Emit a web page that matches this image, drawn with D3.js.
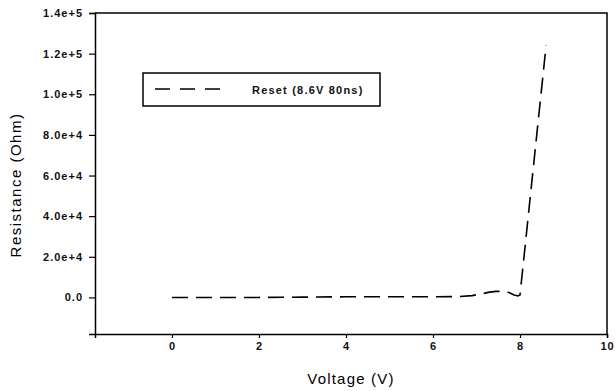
<!DOCTYPE html>
<html>
<head>
<meta charset="utf-8">
<script src="https://cdn.jsdelivr.net/npm/d3@7"></script>
<style>
  body { margin: 0; background: #fff; }
  svg { display: block; font-family: "Liberation Sans", Arial, sans-serif; }
</style>
</head>
<body>
<div id="chart"></div>
<script>
// data
var voltage    = [0, 1, 2, 3, 4, 5, 6, 6.6, 6.9, 7.1, 7.3, 7.45, 7.6, 7.75, 7.85, 7.95, 8.0, 8.6];
var resistance = [0, 0, 0, 150, 300, 300, 300, 400, 900, 1700, 2600, 3000, 3000, 2400, 1300, 700, 1200, 124000];
var xTicks = [0, 2, 4, 6, 8, 10];
var yTicks = [0, 20000, 40000, 60000, 80000, 100000, 120000, 140000];
var seriesName = "Reset (8.6V 80ns)";

var width = 615, height = 391;
var margin = { left: 95, right: 8, top: 13, bottom: 57 };

var svg = d3.select("#chart").append("svg")
    .attr("width", width)
    .attr("height", height);

var x = d3.scaleLinear()
    .domain([-1.77, 10])
    .range([margin.left, width - margin.right]);

var y = d3.scaleLinear()
    .domain([-18000, 140000])
    .range([height - margin.bottom, margin.top]);

var fmtY = function(d){ return d === 0 ? "0.0" : d.toExponential(1); };

// frame (top and right)
svg.append("path")
    .attr("d", "M" + x(-1.77) + "," + y(140000) + "H" + x(10) + "V" + y(-18000))
    .attr("fill", "none")
    .attr("stroke", "#000")
    .attr("stroke-width", 1.5);

var xAxis = svg.append("g")
    .attr("transform", "translate(0," + y(-18000) + ")")
    .call(d3.axisBottom(x).tickValues(xTicks).tickSize(4).tickPadding(4).tickFormat(d3.format("d")));

var yAxis = svg.append("g")
    .attr("transform", "translate(" + x(-1.77) + ",0)")
    .call(d3.axisLeft(y).tickValues(yTicks).tickSize(6).tickPadding(6).tickFormat(fmtY));

[xAxis, yAxis].forEach(function(a){
    a.select(".domain").attr("stroke-width", 1.5);
    a.selectAll(".tick line").attr("stroke-width", 1.2);
    a.selectAll("text")
        .attr("font-size", 11)
        .attr("font-weight", "bold")
        .attr("letter-spacing", 1)
        .attr("font-family", "Liberation Sans, Arial, sans-serif")
        .attr("fill", "#111");
});

// axis titles
svg.append("text")
    .attr("x", (x(-1.77) + x(10)) / 2)
    .attr("y", 384)
    .attr("text-anchor", "middle")
    .attr("font-size", 15)
    .attr("letter-spacing", 1.2)
    .text("Voltage (V)");

svg.append("text")
    .attr("transform", "translate(21,185) rotate(-90)")
    .attr("text-anchor", "middle")
    .attr("font-size", 15)
    .attr("letter-spacing", 1.5)
    .text("Resistance (Ohm)");

// the series
var pts = voltage.map(function(v, i){ return [v, resistance[i]]; });
var line = d3.line()
    .x(function(d){ return x(d[0]); })
    .y(function(d){ return y(d[1]); });

svg.append("path")
    .datum(pts)
    .attr("d", line)
    .attr("fill", "none")
    .attr("stroke", "#000")
    .attr("stroke-width", 1.6)
    .attr("stroke-dasharray", "16,8");

// legend
var lg = svg.append("g").attr("transform", "translate(143,73)");
lg.append("rect")
    .attr("width", 237)
    .attr("height", 33)
    .attr("fill", "#fff")
    .attr("stroke", "#000")
    .attr("stroke-width", 1.5);
lg.append("line")
    .attr("x1", 12).attr("x2", 84)
    .attr("y1", 16).attr("y2", 16)
    .attr("stroke", "#000")
    .attr("stroke-width", 1.6)
    .attr("stroke-dasharray", "15,10");
lg.append("text")
    .attr("x", 109)
    .attr("y", 20.5)
    .attr("font-size", 11)
    .attr("font-weight", "bold")
    .attr("letter-spacing", 1.2)
    .attr("fill", "#111")
    .text(seriesName);
</script>
</body>
</html>
